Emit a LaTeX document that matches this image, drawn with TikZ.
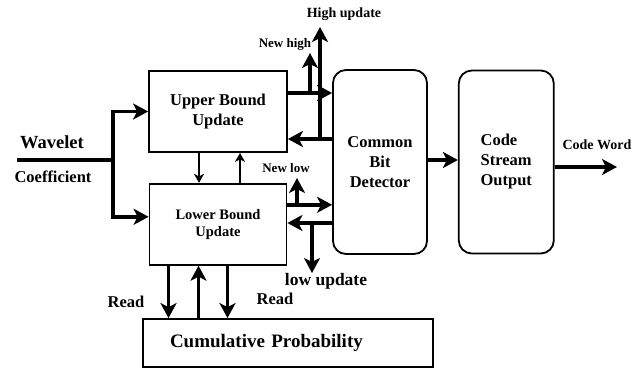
\documentclass[tikz,border=0pt]{standalone}
\usepackage{fontspec}
\setmainfont{Liberation Serif}
\usetikzlibrary{arrows.meta,positioning}

\begin{document}
\begin{tikzpicture}[x=1pt,y=-1pt,
	block/.style={draw, line width=1.8pt, align=center, font=\bfseries\fontsize{16.5}{20}\selectfont},
	rblock/.style={block, rounded corners=13pt},
	flow/.style={line width=3.4pt, -{Stealth[length=15pt,width=16pt,inset=4pt]}},
	link/.style={line width=2pt, -{Stealth[length=9pt,width=10pt,inset=2.5pt]}},
	lbl/.style={font=\bfseries\fontsize{13}{15}\selectfont, inner sep=0pt}]

	\useasboundingbox (0,0) rectangle (640,370);

	\node[block, minimum width=138pt, minimum height=81pt] (upper) at (218,111.5) {Upper Bound\\Update};
	\node[block, minimum width=137pt, minimum height=81pt, font=\bfseries\fontsize{14.5}{17}\selectfont, below=30pt of upper] (lower) {Lower Bound\\Update};
	\node[rblock, minimum width=94pt, minimum height=184pt] (cbd) at (380,162) {Common\\Bit\\Detector};
	\node[rblock, minimum width=95pt, minimum height=183pt, align=left, right=30pt of cbd] (cso) {Code\\Stream\\Output};
	\node[block, minimum height=48pt, text width=236pt, inner xsep=27pt, align=left, font=\bfseries\fontsize{19}{22}\selectfont] (cum) at (288,343) {Cumulative Probability};

	% input
	\coordinate (wavein) at (17,160);
	\coordinate (split) at (113,160);
	\draw[line width=3.4pt] (wavein) -- (split);
	\draw[flow] (split) |- (upper.west);
	\draw[flow] (split) |- ([yshift=7.5pt]lower.west);
	\node[lbl, font=\bfseries\fontsize{18.5}{20}\selectfont] (wavelet) at (52,142) {Wavelet};
	\node[lbl, font=\bfseries\fontsize{16.5}{18}\selectfont] (coeff) at (53,177) {Coefficient};

	% upper bound side
	\coordinate (hiout) at ([yshift=18.5pt]upper.east);
	\draw[flow] (hiout) -- (hiout -| cbd.west);
	\coordinate (newhi) at (310,53);
	\draw[flow] (newhi |- hiout) -- (newhi);
	\coordinate (hiback) at ([yshift=23pt]cbd.west);
	\draw[flow] (hiback) -- (hiback -| upper.east);
	\coordinate (hiup) at (320,27);
	\draw[flow] (hiup |- hiback) -- (hiup);
	\node[lbl] (newhilbl) at (285,44) {New high};
	\node[lbl, font=\bfseries\fontsize{14}{16}\selectfont] (hiuplbl) at (344,14) {High update};

	% lower bound side
	\coordinate (loout) at ([yshift=19.5pt]lower.east);
	\draw[flow] (loout) -- (loout -| cbd.west);
	\coordinate (newlo) at (297,178);
	\draw[flow] (newlo |- loout) -- (newlo);
	\coordinate (loback) at ([yshift=-61pt]cbd.west);
	\draw[flow] (loback) -- (loback -| lower.east);
	\coordinate (lodown) at (312,273);
	\draw[flow] (lodown |- loback) -- (lodown);
	\node[lbl] (newlolbl) at (286,168) {New low};
	\node[lbl, font=\bfseries\fontsize{17.5}{19}\selectfont] (lodownlbl) at (326,281) {low update};

	% between the bounds
	\draw[link] ([xshift=-19pt]upper.south) -- ([xshift=-19pt]upper.south |- lower.north);
	\draw[link] ([xshift=22pt]lower.north) -- ([xshift=22pt]lower.north |- upper.south);

	% probability table
	\draw[flow] ([xshift=-49.5pt]lower.south) -- ([xshift=-49.5pt]lower.south |- cum.north);
	\draw[flow] ([xshift=-19.5pt]lower.south |- cum.north) -- ([xshift=-19.5pt]lower.south);
	\draw[flow] ([xshift=9.5pt]lower.south) -- ([xshift=9.5pt]lower.south |- cum.north);
	\node[lbl, font=\bfseries\fontsize{16.5}{18}\selectfont] (readl) at (126,302) {Read};
	\node[lbl, font=\bfseries\fontsize{16.5}{18}\selectfont] (readr) at (275,299) {Read};

	% output
	\draw[flow] ([yshift=2pt]cbd.east) -- ([yshift=2pt]cbd.east -| cso.west);
	\coordinate (cwout) at (617,167);
	\draw[flow] (cwout -| cso.east) -- (cwout);
	\node[lbl, font=\bfseries\fontsize{14}{16}\selectfont] (cwlbl) at (597,145) {Code Word};
\end{tikzpicture}
\end{document}
